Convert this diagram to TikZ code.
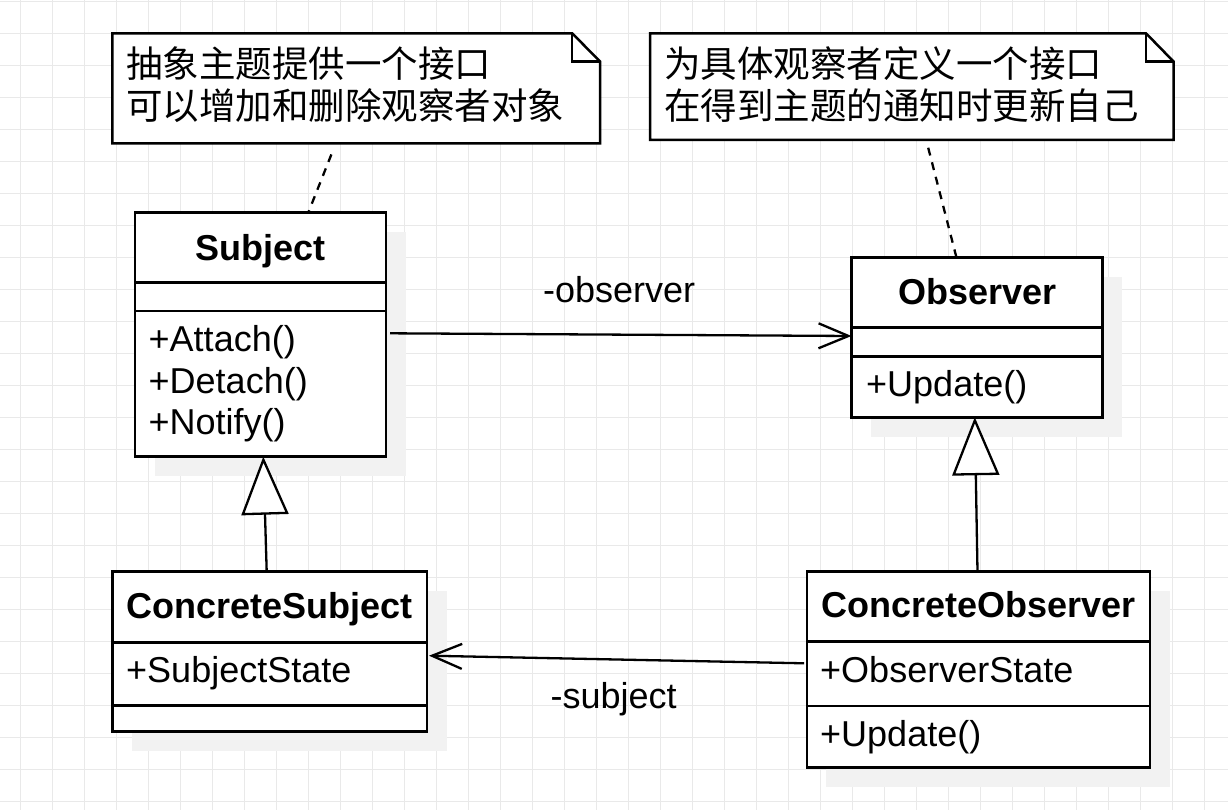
\documentclass[tikz,border=0pt]{standalone}
\usepackage{fontspec}
\setmainfont{Liberation Sans}
\newfontfamily\cjkfont{Noto Sans CJK SC}
\usetikzlibrary{arrows.meta,calc,shadows}
\definecolor{gridc}{HTML}{E9E9E9}
\definecolor{shadowc}{HTML}{F2F2F2}
\begin{document}
\begin{tikzpicture}[x=1pt,y=-1pt,
  gridline/.style={draw=gridc, line width=1pt},
  cls/.style={draw, line width=2.5pt, fill=white, inner sep=0pt, outer sep=0pt, anchor=north west,
    drop shadow={shadow xshift=19.5pt, shadow yshift=-19.5pt, fill=shadowc, opacity=1}},
  div/.style={line width=2.5pt},
  notebox/.style={inner sep=0pt, outer sep=0pt, anchor=north west},
  noteline/.style={line width=2.5pt, fill=white, line join=miter},
  foldline/.style={line width=2.5pt},
  title/.style={font=\bfseries\fontsize{36}{42}\selectfont, inner sep=0pt, anchor=base},
  member/.style={font=\fontsize{36}{42}\selectfont, inner sep=0pt, anchor=base west},
  cjk/.style={font=\cjkfont\fontsize{36.5}{42}\selectfont, inner sep=0pt, anchor=base west},
  assoc/.style={line width=2.3pt, -{Straight Barb[length=30pt,width=25pt]}},
  gen/.style={line width=2.3pt, -{Triangle[length=58pt,width=47pt,fill=white]}},
  dashline/.style={line width=2.3pt, dash pattern=on 8pt off 7pt}
]
\useasboundingbox (0,0) rectangle (1228,810);
\fill[white] (0,0) rectangle (1228,810);
\foreach \i in {0,...,37} \draw[gridline] ({20.6+32*\i},0) -- ({20.6+32*\i},810);
\foreach \j in {0,...,25} \draw[gridline] (0,{1.7+32*\j}) -- (1228,{1.7+32*\j});

% notes
\node[notebox, minimum width=487.9pt, minimum height=110pt] (note1) at (112.3,33.3) {};
\draw[noteline] (note1.north west) -- ($(note1.north east)+(-28,0)$) -- ($(note1.north east)+(0,28.4)$) -- (note1.south east) -- (note1.south west) -- cycle;
\draw[foldline] ($(note1.north east)+(-28,0)$) -- ($(note1.north east)+(-28,28.4)$) -- ($(note1.north east)+(0,28.4)$);
\node[cjk] (note1a) at (126,77.5) {抽象主题提供一个接口};
\node[cjk] (note1b) at (126,119.5) {可以增加和删除观察者对象};

\node[notebox, minimum width=523.5pt, minimum height=106.7pt] (note2) at (650.2,33.3) {};
\draw[noteline] (note2.north west) -- ($(note2.north east)+(-27.7,0)$) -- ($(note2.north east)+(0,28.4)$) -- (note2.south east) -- (note2.south west) -- cycle;
\draw[foldline] ($(note2.north east)+(-27.7,0)$) -- ($(note2.north east)+(-27.7,28.4)$) -- ($(note2.north east)+(0,28.4)$);
\node[cjk] (note2a) at (664,77.5) {为具体观察者定义一个接口};
\node[cjk] (note2b) at (664,119.5) {在得到主题的通知时更新自己};

% Subject
\node[cls, minimum width=251pt, minimum height=244.4pt] (subject) at (135,212.3) {};
\node[title] (subjectT) at (260.5,260.7) {Subject};
\draw[div] ($(subject.north west)+(0,70.4)$) -- ($(subject.north east)+(0,70.4)$);
\draw[div] ($(subject.north west)+(0,98.7)$) -- ($(subject.north east)+(0,98.7)$);
\node[member] (sm1) at (148.5,351.7) {+Attach()};
\node[member] (sm2) at (148.5,393) {+Detach()};
\node[member] (sm3) at (148.5,434.5) {+Notify()};

% Observer
\node[cls, minimum width=251.2pt, minimum height=160pt] (observer) at (851.5,257.3) {};
\node[title] (observerT) at (977.1,304) {Observer};
\draw[div] ($(observer.north west)+(0,70.4)$) -- ($(observer.north east)+(0,70.4)$);
\draw[div] ($(observer.north west)+(0,99.4)$) -- ($(observer.north east)+(0,99.4)$);
\node[member] (om1) at (866,396) {+Update()};

% ConcreteSubject
\node[cls, minimum width=314.3pt, minimum height=160pt] (csub) at (112.7,571.7) {};
\node[title] (csubT) at (269.9,618) {ConcreteSubject};
\draw[div] ($(csub.north west)+(0,70.6)$) -- ($(csub.north east)+(0,70.6)$);
\draw[div] ($(csub.north west)+(0,134)$) -- ($(csub.north east)+(0,134)$);
\node[member] (csa1) at (126,682) {+SubjectState};

% ConcreteObserver
\node[cls, minimum width=343.1pt, minimum height=196pt] (cobs) at (806.9,571.7) {};
\node[title] (cobsT) at (978.4,617) {ConcreteObserver};
\draw[div] ($(cobs.north west)+(0,70)$) -- ($(cobs.north east)+(0,70)$);
\draw[div] ($(cobs.north west)+(0,134.3)$) -- ($(cobs.north east)+(0,134.3)$);
\node[member] (coa1) at (820,682) {+ObserverState};
\node[member] (com1) at (820,746.5) {+Update()};

% connectors
\draw[assoc] ($(subject.north east)+(4,121)$) -- ($(observer.north west)+(0,78.7)$);
\draw[assoc] ($(cobs.north west)+(-2.7,91.6)$) -- ($(csub.north east)+(2,84)$);
\draw[gen] ($(csub.north west)+(154,0)$) -- ($(subject.south west)+(128.3,0)$);
\draw[gen] ($(cobs.north west)+(170.6,0)$) -- ($(observer.south west)+(123.3,0)$);
\draw[dashline, shorten <=12pt] ($(note1.south west)+(223.5,0)$) -- ($(subject.north west)+(173.4,0)$);
\draw[dashline, shorten <=8pt] ($(note2.south west)+(276,0)$) -- ($(observer.north west)+(104.9,0)$);

% labels
\node[member] (lobs) at (543,302.3) {-observer};
\node[member] (lsub) at (550.5,708.3) {-subject};
\end{tikzpicture}
\end{document}
